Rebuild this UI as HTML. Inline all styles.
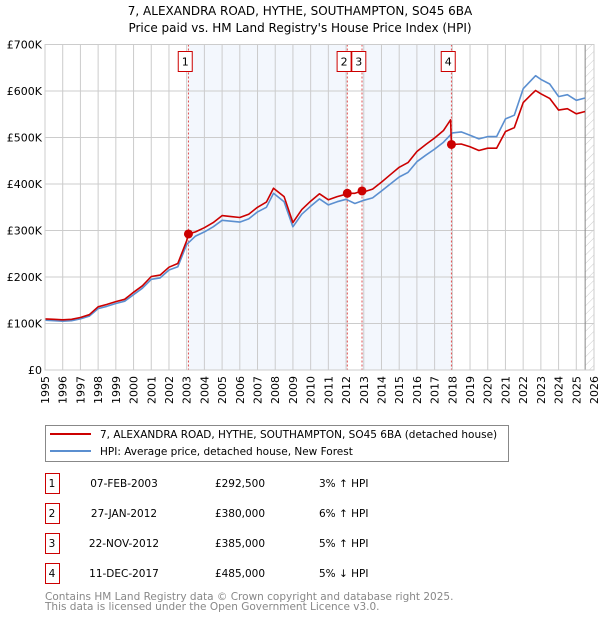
<!DOCTYPE html>
<html><head><meta charset="utf-8"><style>
body{margin:0;background:#fff;}
svg text{font-family:"DejaVu Sans","Liberation Sans",sans-serif;}
</style></head><body>
<svg id="chart" width="600" height="620" viewBox="0 0 600 620" xmlns="http://www.w3.org/2000/svg">
<text x="300" y="15" text-anchor="middle" font-size="12">7, ALEXANDRA ROAD, HYTHE, SOUTHAMPTON, SO45 6BA</text>
<text x="300" y="32" text-anchor="middle" font-size="12">Price paid vs. HM Land Registry's House Price Index (HPI)</text>
<defs><pattern id="hatch" width="6" height="6" patternUnits="userSpaceOnUse" patternTransform="rotate(45)"><line x1="0" y1="0" x2="0" y2="6" stroke="#ccc" stroke-width="1"/></pattern></defs>
<g id="plot"></g>
<g>
<rect x="45.5" y="425.5" width="463" height="36" fill="#fff" stroke="#888"/>
<line x1="50" y1="434" x2="91" y2="434" stroke="#cc0000" stroke-width="2"/>
<text x="100" y="438" font-size="10.5">7, ALEXANDRA ROAD, HYTHE, SOUTHAMPTON, SO45 6BA (detached house)</text>
<line x1="50" y1="451" x2="91" y2="451" stroke="#5b8fd0" stroke-width="2"/>
<text x="100" y="455" font-size="10.5">HPI: Average price, detached house, New Forest</text>
</g>
<g id="table" font-size="10.5"></g>
<text x="45" y="600" font-size="10.5" fill="#888">Contains HM Land Registry data © Crown copyright and database right 2025.</text>
<text x="45" y="610" font-size="10.5" fill="#888">This data is licensed under the Open Government Licence v3.0.</text>
</svg>
<script>
const hpiT=[1995.0,1995.5,1996.0,1996.5,1997.0,1997.5,1998.0,1998.5,1999.0,1999.5,2000.0,2000.5,2001.0,2001.5,2002.0,2002.5,2003.0,2003.5,2004.0,2004.5,2005.0,2005.5,2006.0,2006.5,2007.0,2007.5,2007.9,2008.5,2009.0,2009.5,2010.0,2010.5,2011.0,2011.5,2012.0,2012.5,2013.0,2013.5,2014.0,2014.5,2015.0,2015.5,2016.0,2016.5,2017.0,2017.5,2018.0,2018.5,2019.0,2019.5,2020.0,2020.5,2021.0,2021.5,2022.0,2022.5,2022.7,2023.0,2023.5,2024.0,2024.5,2025.0,2025.5];
const hpiV=[107,106,105,106,110,116,132,137,143,148,162,176,195,198,215,222,270,288,297,308,322,320,318,325,340,350,380,362,308,335,352,368,355,362,367,358,365,370,385,400,415,425,448,462,475,490,510,512,505,497,502,502,540,548,605,625,633,625,615,588,592,580,585];
const redT=[1995.0,1995.5,1996.0,1996.5,1997.0,1997.5,1998.0,1998.5,1999.0,1999.5,2000.0,2000.5,2001.0,2001.5,2002.0,2002.5,2003.0,2003.1,2003.5,2004.0,2004.5,2005.0,2005.5,2006.0,2006.5,2007.0,2007.5,2007.9,2008.5,2009.0,2009.5,2010.0,2010.5,2011.0,2011.5,2012.0,2012.07,2012.5,2012.9,2013.0,2013.5,2014.0,2014.5,2015.0,2015.5,2016.0,2016.5,2017.0,2017.5,2017.9,2017.95,2018.5,2019.0,2019.5,2020.0,2020.5,2021.0,2021.5,2022.0,2022.5,2022.7,2023.0,2023.5,2024.0,2024.5,2025.0,2025.5];
const redV=[110,109,108,109,113,119,136,141,147,152,167,181,201,204,221,229,278,292.5,297,306,317,332,330,328,335,350,361,391,373,317,345,363,379,366,373,378,380,380,385,383,389,404,420,436,446,470,485,499,515,538,485,486,480,472,477,477,513,521,575,594,601,594,584,559,562,551,556];
const saleLabels=["1","2","3","4"];
const saleT=[2003.1,2012.07,2012.9,2017.95];
const saleV=[292.5,380,385,485];
const saleDates=["07-FEB-2003","27-JAN-2012","22-NOV-2012","11-DEC-2017"];
const salePrices=["£292,500","£380,000","£385,000","£485,000"];
const saleHpi=["3% ↑ HPI","6% ↑ HPI","5% ↑ HPI","5% ↓ HPI"];
const yTicks=[0,100,200,300,400,500,600,700];
const yTickLabels=["£0","£100K","£200K","£300K","£400K","£500K","£600K","£700K"];
const xYears=[];for(let y=1995;y<=2026;y++)xYears.push(y);

const NS="http://www.w3.org/2000/svg";
const X0=45,X1=594,Y0=370,Y1=44.5;
const xs=t=>X0+(t-1995)/31*(X1-X0);
const ys=v=>Y0-v/700*(Y0-Y1);
const plot=document.getElementById('plot');
function mk(tag,attrs,parent){const e=document.createElementNS(NS,tag);for(const k in attrs)e.setAttribute(k,attrs[k]);(parent||plot).appendChild(e);return e;}

mk('rect',{x:X0,y:Y1,width:X1-X0,height:Y0-Y1,fill:'#fff'});
const s1=mk('rect',{x:xs(saleT[0]),y:Y1,width:xs(saleT[1])-xs(saleT[0]),height:Y0-Y1,fill:'#eef3fc',opacity:0.7});


const s2=mk('rect',{x:xs(saleT[2]),y:Y1,width:xs(saleT[3])-xs(saleT[2]),height:Y0-Y1,fill:'#eef3fc',opacity:0.7});


const hz=mk('rect',{x:xs(2025.5),y:Y1,width:X1-xs(2025.5),height:Y0-Y1,fill:'url(#hatch)'});



xYears.forEach(y=>{
  mk('line',{x1:xs(y),y1:Y1,x2:xs(y),y2:Y0,stroke:'#cccccc','stroke-width':1});
  const t=mk('text',{x:0,y:0,'font-size':11,'text-anchor':'end',transform:`translate(${xs(y)+4},376) rotate(-90)`});
  t.textContent=y;
  
  
});
yTicks.forEach((v,i)=>{
  mk('line',{x1:X0,y1:ys(v),x2:X1,y2:ys(v),stroke:'#cccccc','stroke-width':1});
  const t=mk('text',{x:42,y:ys(v)+4,'font-size':11,'text-anchor':'end'});
  t.textContent=yTickLabels[i];
  
  
});
mk('line',{x1:xs(2025.5),y1:Y1,x2:xs(2025.5),y2:Y0,stroke:'#888','stroke-width':1});

saleT.forEach((t,i)=>{
  mk('line',{x1:xs(t),y1:Y1,x2:xs(t),y2:Y0,stroke:'#e05050','stroke-width':1,'stroke-dasharray':'2,2'});
  const bx=xs(t)-3.2;
  mk('rect',{x:bx-7,y:51.5,width:14,height:20,fill:'#fff',stroke:'#cc0000','stroke-width':1});
  const tx=mk('text',{x:bx,y:65.5,'font-size':11,'text-anchor':'middle'});
  tx.textContent=saleLabels[i];
  
  
});

function path(T,V,color,name){
  const d=T.map((t,i)=>(i?'L':'M')+xs(t).toFixed(1)+','+ys(V[i]).toFixed(1)).join('');
  const p=mk('path',{d:d,fill:'none',stroke:color,'stroke-width':1.6,'stroke-linejoin':'round'});
  
  
}
path(hpiT,hpiV,'#5b8fd0','hpi-line');
path(redT,redV,'#cc0000','property-price-line');
saleT.forEach((t,i)=>{
  const c=mk('circle',{cx:xs(t),cy:ys(saleV[i]),r:4.5,fill:'#cc0000'});
  
  
});
mk('rect',{x:X0,y:Y1,width:X1-X0,height:Y0-Y1,fill:'none',stroke:'#ccc'});

const tb=document.getElementById('table');
saleT.forEach((t,i)=>{
  const cy=483+i*30;
  mk('rect',{x:45.5,y:cy-9.5,width:14,height:20,fill:'#fff',stroke:'#cc0000'},tb);
  const cells=[[52,saleLabels[i],'middle'],[124,saleDates[i],'middle'],[240,salePrices[i],'middle'],[319,saleHpi[i],'start']];
  cells.forEach((c,j)=>{
    const e=mk('text',{x:c[0],y:cy+4,'text-anchor':c[2]},tb);
    e.textContent=c[1];
    
    
  });
});
</script>
</body></html>
